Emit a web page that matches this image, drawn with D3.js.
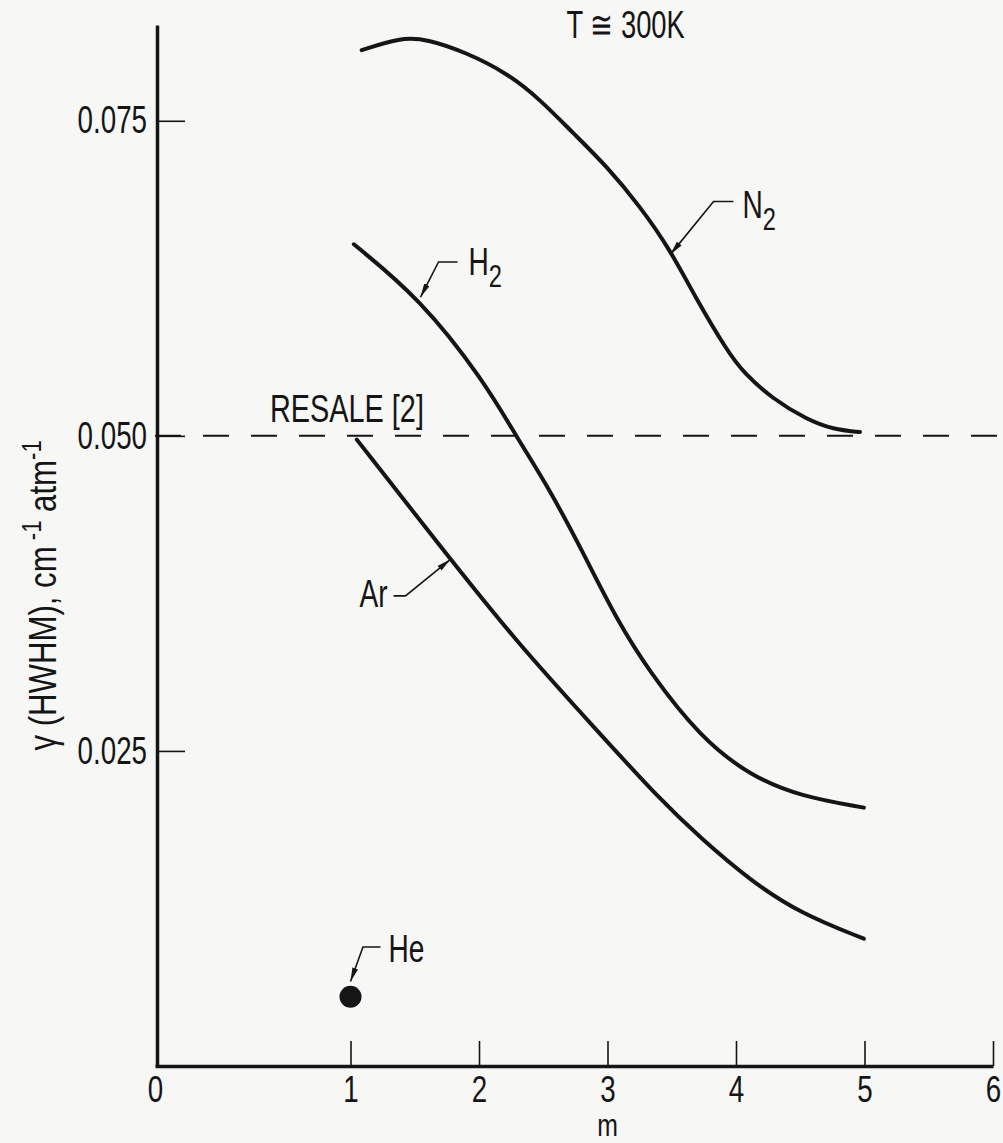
<!DOCTYPE html>
<html><head><meta charset="utf-8">
<script src="https://cdn.jsdelivr.net/npm/d3@7"></script>
<style>
html,body{margin:0;padding:0;background:#f7f7f6;}
svg{display:block;}
text{font-family:'Liberation Sans',Arial,sans-serif;fill:#151515;}
</style></head><body>
<svg id="chart" width="1003" height="1143"></svg>
<script>
// ---- data ----
const xTickValues = [0, 1, 2, 3, 4, 5, 6];
const yTickValues = [0.025, 0.050, 0.075];
const resaleValue = 0.050;

const n2M = [1.087, 1.385, 1.593, 1.904, 2.216, 2.475, 2.734, 2.994, 3.253, 3.486, 3.694, 3.928, 4.058, 4.290, 4.550, 4.758, 4.965];
const n2G = [0.0806, 0.0816, 0.0815, 0.0804, 0.0788, 0.0767, 0.0740, 0.0714, 0.0682, 0.0648, 0.0608, 0.0568, 0.0550, 0.0529, 0.0513, 0.0505, 0.0503];

const h2M = [1.026, 1.541, 2.036, 2.293, 2.553, 2.812, 3.072, 3.331, 3.720, 4.113, 4.502, 4.995];
const h2G = [0.0652, 0.0609, 0.0544, 0.0499, 0.0457, 0.0407, 0.0354, 0.0312, 0.0261, 0.0230, 0.0214, 0.0205];

const arM = [1.049, 1.778, 2.297, 2.893, 3.412, 3.724, 4.113, 4.502, 4.995];
const arG = [0.0497, 0.0402, 0.0336, 0.0269, 0.0211, 0.0181, 0.0147, 0.0121, 0.0101];

const heM = [1.0];
const heG = [0.0055];

// ---- layout ----
const svg = d3.select("#chart");
const x = d3.scaleLinear().domain([0, 1, 6]).range([155, 350.5, 993]);
const y = d3.scaleLinear().domain([0, 0.0826]).range([1066, 25]);
const ink = "#151515";

// horizontally condense a text element (the reference uses a condensed face)
function condense(sel, sx, extra) {
  sel.each(function () {
    const t = d3.select(this);
    const tx = +t.attr("x") || 0, ty = +t.attr("y") || 0;
    t.attr("x", 0).attr("y", 0)
      .attr("transform", `translate(${tx},${ty})${extra || ""} scale(${sx},1)`);
  });
}

// dashed Resale reference line
svg.append("line")
  .attr("x1", x(0)).attr("x2", 1003)
  .attr("y1", y(resaleValue)).attr("y2", y(resaleValue))
  .attr("stroke", ink).attr("stroke-width", 2)
  .attr("stroke-dasharray", "26,22");

// axes
const xAxis = d3.axisBottom(x).tickValues(xTickValues).tickFormat(d3.format("d"))
  .tickSizeInner(-25).tickSizeOuter(0).tickPadding(10);
const gx = svg.append("g").attr("transform", `translate(0,${y(0)})`).call(xAxis);
gx.select(".domain").attr("stroke", ink).attr("stroke-width", 3.5);
gx.selectAll(".tick line").attr("stroke", ink).attr("stroke-width", 1.6)
  .attr("display", d => d === 0 ? "none" : null);
gx.selectAll(".tick text").attr("font-size", 37).attr("font-family", null).attr("fill", ink)
  .call(condense, 0.75);

const yAxis = d3.axisLeft(y).tickValues(yTickValues).tickFormat(d3.format(".3f"))
  .tickSizeInner(-28).tickSizeOuter(0).tickPadding(10);
const gy = svg.append("g").attr("transform", `translate(${x(0) + 2},0)`).call(yAxis);
gy.select(".domain").attr("stroke", ink).attr("stroke-width", 3.5);
gy.selectAll(".tick line").attr("stroke", ink).attr("stroke-width", 1.6);
gy.selectAll(".tick text").attr("font-size", 38).attr("font-family", null).attr("fill", ink)
  .call(condense, 0.73);

// curves
const line = d3.line().x(d => x(d[0])).y(d => y(d[1])).curve(d3.curveBasis);
[[n2M, n2G], [h2M, h2G], [arM, arG]].forEach(([ms, gs]) => {
  svg.append("path").datum(d3.zip(ms, gs)).attr("d", line)
    .attr("fill", "none").attr("stroke", ink).attr("stroke-width", 4).attr("stroke-linecap", "round");
});

// He point
svg.selectAll("circle.he").data(d3.zip(heM, heG)).join("circle").attr("class", "he")
  .attr("cx", d => x(d[0])).attr("cy", d => y(d[1])).attr("r", 11).attr("fill", ink);

// arrowhead marker
svg.append("defs").append("marker").attr("id", "ah")
  .attr("viewBox", "0 0 14 6").attr("refX", 14).attr("refY", 3)
  .attr("markerWidth", 14).attr("markerHeight", 6).attr("markerUnits", "userSpaceOnUse")
  .attr("orient", "auto")
  .append("path").attr("d", "M0,0 L14,3 L0,6 Z").attr("fill", ink);

// annotations (data coordinates)
const annotations = [
  {label: "N", sub: "2", tip: [3.49, 0.0644], elbow: [3.825, 0.0686], stub: [3.98, 0.0686], text: [4.05, 0.0673], anchor: "start"},
  {label: "H", sub: "2", tip: [1.545, 0.0610], elbow: [1.685, 0.0638], stub: [1.833, 0.0638], text: [1.918, 0.0628], anchor: "start"},
  {label: "Ar", sub: "", tip: [1.778, 0.0402], elbow: [1.428, 0.0373], stub: [1.335, 0.0373], text: [1.288, 0.0364], anchor: "end"},
  {label: "He", sub: "", tip: [1.0, 0.0067], elbow: [1.097, 0.00944], stub: [1.233, 0.00944], text: [1.296, 0.00825], anchor: "start"}
];
annotations.forEach(a => {
  svg.append("path")
    .attr("d", `M${x(a.stub[0])},${y(a.stub[1])}L${x(a.elbow[0])},${y(a.elbow[1])}L${x(a.tip[0])},${y(a.tip[1])}`)
    .attr("fill", "none").attr("stroke", ink).attr("stroke-width", 1.6)
    .attr("marker-end", "url(#ah)");
  const t = svg.append("text").attr("x", x(a.text[0])).attr("y", y(a.text[1]))
    .attr("font-size", 38).attr("text-anchor", a.anchor).text(a.label);
  if (a.sub) t.append("tspan").attr("dy", 12).attr("font-size", 32).text(a.sub);
  t.call(condense, 0.74);
});

// RESALE label
svg.append("text").attr("x", x(0.588)).attr("y", y(0.0511)).attr("font-size", 39)
  .text("RESALE [2]").call(condense, 0.74);

// temperature note
svg.append("text").attr("x", x(2.68)).attr("y", y(0.0816)).attr("font-size", 38)
  .text("T \u2245 300K").call(condense, 0.72);

// x axis title
svg.append("text").attr("x", x(3)).attr("y", 1136).attr("text-anchor", "middle")
  .attr("font-size", 31).text("m").call(condense, 0.8);

// y axis title
const yt = svg.append("text").attr("x", 56).attr("y", (y(0.025) + y(0.050)) / 2 + 2)
  .attr("text-anchor", "middle").attr("font-size", 38);
yt.append("tspan").text("\u03B3 (HWHM), cm");
yt.append("tspan").attr("dy", -15).attr("font-size", 27).text(" -1");
yt.append("tspan").attr("dy", 15).text(" atm");
yt.append("tspan").attr("dy", -15).attr("font-size", 27).text("-1");
yt.call(condense, 0.82, " rotate(-90)");
</script>
</body></html>
